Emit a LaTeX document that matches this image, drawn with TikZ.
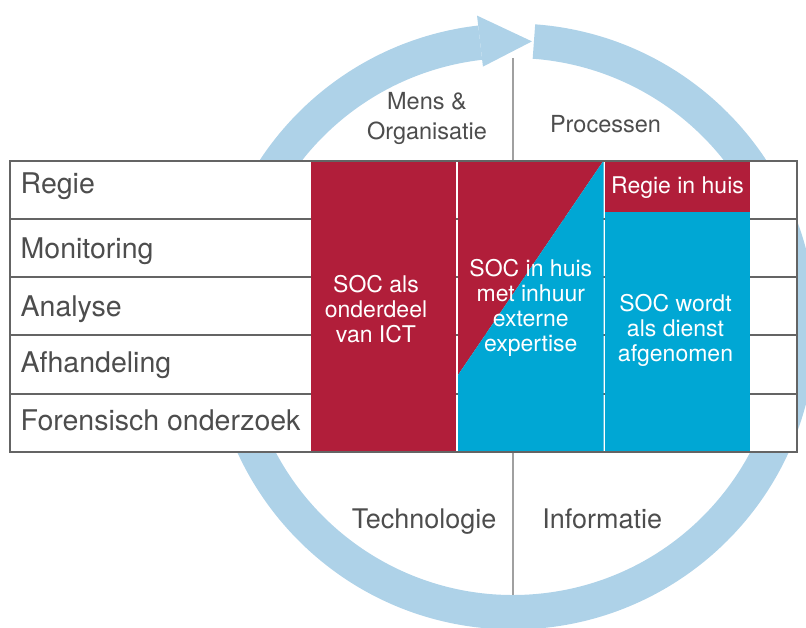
\documentclass[tikz,border=0pt]{standalone}
\usepackage{fontspec}
\setmainfont{TeX Gyre Heros}
\definecolor{ringblue}{RGB}{174,210,232}
\definecolor{socred}{RGB}{177,30,58}
\definecolor{socblue}{RGB}{0,167,212}
\definecolor{labelgrey}{RGB}{77,77,77}
\definecolor{gridgrey}{RGB}{100,100,100}
\definecolor{axisgrey}{RGB}{160,160,160}
\begin{document}
\begin{tikzpicture}[x=1pt,y=-1pt,
  rowlabel/.style={anchor=base west,inner sep=0pt,text=labelgrey,
    font=\fontsize{28.5}{30}\selectfont},
  aspectlabel/.style={anchor=base,inner sep=0pt,text=labelgrey,align=center,
    font=\fontsize{23.5}{30.7}\selectfont},
  aspectlow/.style={aspectlabel,font=\fontsize{27}{30}\selectfont},
  soctext/.style={anchor=base,inner sep=0pt,text=white,align=center,
    font=\fontsize{23}{25}\selectfont},
  gridline/.style={draw=gridgrey,line width=2pt}]
\useasboundingbox (0,0) rectangle (806,628);

% circular arrow around the table
\begin{scope}[shift={(513,326.5)}]
  \fill[ringblue] (-85.8:303) arc[start angle=-85.8,end angle=263.4,radius=303]
    -- (263.4:268.5) arc[start angle=263.4,end angle=-85.8,radius=268.5] -- cycle;
  \fill[ringblue] (263.4:313) -- (273.8:285.75) -- (263.4:261.6) -- cycle;
  \coordinate (axtop) at (0,-268.5);
  \coordinate (axbot) at (0,268.5);
\end{scope}
\draw[axisgrey,line width=1.6pt] (axtop) -- (axbot);

% table of activities
\fill[white] (9.5,160.7) rectangle (797,451.7);
\foreach \y in {218.9,277.1,335.3,393.5}
  \draw[gridline] (9.5,\y) -- (797,\y);
\draw[gridline] (797,160.7) -- (797,451.7);

% sourcing models
\fill[socred] (311,160.7) rectangle (456,451.7);
\fill[socred] (458,160.7) -- (603.5,160.7) -- (458,375) -- cycle;
\fill[socblue] (603.5,160.7) -- (603.5,451.7) -- (458,451.7) -- (458,375) -- cycle;
\fill[socred] (605,160.7) rectangle (750,211.7);
\fill[socblue] (605,211.7) rectangle (750,451.7);
\draw[gridline] (9.5,160.7) rectangle (797,451.7);

% row labels
\node[rowlabel] (regie) at (20.5,193.3) {Regie};
\node[rowlabel] (monitoring) at (20.5,258.3) {Monitoring};
\node[rowlabel] (analyse) at (20.5,316.7) {Analyse};
\node[rowlabel] (afhandeling) at (20.5,372.7) {Afhandeling};
\node[rowlabel] (forensisch) at (20.5,430) {Forensisch onderzoek};

% aspects (multi-line nodes sit on the baseline of their last line)
\node[aspectlabel] (mens) at (427,140) {Mens \&\\Organisatie};
\node[aspectlabel] (processen) at (605.5,132.7) {Processen};
\node[aspectlow] (technologie) at (424.2,528.3) {Technologie};
\node[aspectlow] (informatie) at (602.2,528.3) {Informatie};

% texts in the model columns
\node[soctext] (ict) at (376,342.3) {SOC als\\onderdeel\\van ICT};
\node[soctext] (inhuis) at (530.8,351.5) {SOC in huis\\met inhuur\\externe\\expertise};
\node[soctext] (regieinhuis) at (677.5,193.3) {Regie in huis};
\node[soctext] (dienst) at (675.5,361.7) {SOC wordt\\als dienst\\afgenomen};
\end{tikzpicture}
\end{document}
